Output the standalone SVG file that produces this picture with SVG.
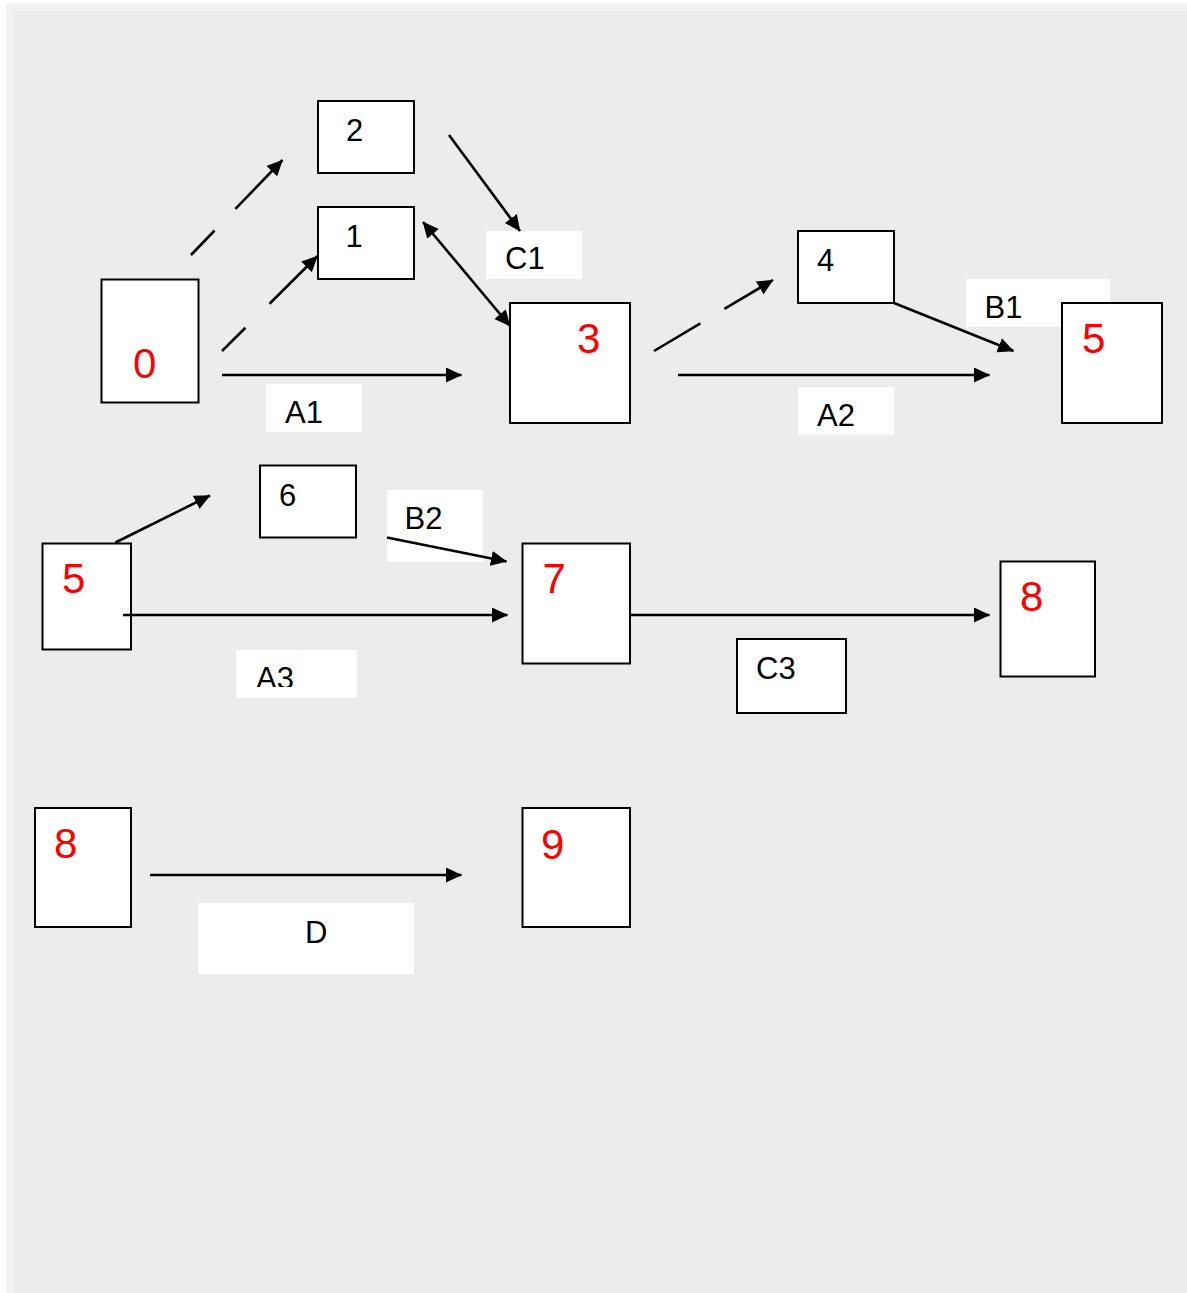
<svg xmlns="http://www.w3.org/2000/svg" width="1187" height="1293" viewBox="0 0 1187 1293">
<style>
.box{fill:#ffffff;stroke:#000000;stroke-width:2}
.lbl{fill:#ffffff;stroke:none}
.t{font-family:"Liberation Sans",Arial,sans-serif;font-size:31px;fill:#000000}
.r{font-family:"Liberation Sans",Arial,sans-serif;font-size:42px;fill:#ff0000}
.c{fill:none;stroke:#000000;stroke-width:2.6}
</style>
<defs>
<marker id="ah" markerUnits="userSpaceOnUse" markerWidth="17" markerHeight="16" refX="15.5" refY="7.5" orient="auto-start-reverse" viewBox="0 0 17 16">
<path d="M0,0 L16,7.5 L0,15 Z" fill="#000000"/>
</marker>
<clipPath id="clipA3"><rect x="236" y="650" width="121" height="37"/></clipPath>
</defs>
<rect x="0" y="0" width="1187" height="1293" fill="#ffffff"/>
<rect x="6" y="3" width="1181" height="1290" fill="#f2f2f2"/>
<rect x="13" y="11" width="1174" height="1282" fill="#ececec"/>

<g id="node-0"><rect class="box" x="101.5" y="279.5" width="97" height="123"/><text class="r" x="133" y="378">0</text></g>
<g id="node-2"><rect class="box" x="318" y="101" width="96" height="72"/><text class="t" x="346" y="141">2</text></g>
<g id="node-1"><rect class="box" x="318" y="207" width="96" height="72"/><text class="t" x="345.5" y="247">1</text></g>
<g id="label-A1"><rect class="lbl" x="266" y="384" width="96" height="48"/><text class="t" x="285" y="423">A1</text></g>
<g id="label-C1"><rect class="lbl" x="486" y="231" width="96" height="48"/><text class="t" x="505" y="269">C1</text></g>
<g id="node-3"><rect class="box" x="510" y="303" width="120" height="120"/><text class="r" x="577" y="353">3</text></g>
<g id="node-4"><rect class="box" x="798" y="231" width="96" height="72"/><text class="t" x="817" y="271">4</text></g>
<g id="label-B1"><rect class="lbl" x="966" y="279" width="144" height="48"/><text class="t" x="984.5" y="318">B1</text></g>
<g id="node-5a"><rect class="box" x="1062" y="303" width="100" height="120"/><text class="r" x="1082" y="353">5</text></g>
<g id="label-A2"><rect class="lbl" x="798" y="387" width="96" height="48"/><text class="t" x="817" y="426">A2</text></g>

<g id="node-6"><rect class="box" x="260" y="465.5" width="96" height="72"/><text class="t" x="279" y="506">6</text></g>
<g id="label-B2"><rect class="lbl" x="387" y="490" width="96" height="72"/><text class="t" x="404.5" y="529">B2</text></g>
<g id="node-5b"><rect class="box" x="42.5" y="543.5" width="88.5" height="106"/><text class="r" x="62" y="593">5</text></g>
<g id="label-A3"><rect class="lbl" x="236" y="650" width="121" height="48"/><text class="t" x="256" y="689" clip-path="url(#clipA3)">A3</text></g>
<g id="node-7"><rect class="box" x="522.5" y="543.5" width="107.5" height="120"/><text class="r" x="542.5" y="593">7</text></g>
<g id="label-C3"><rect class="box" x="737" y="639" width="109" height="74"/><text class="t" x="756" y="679">C3</text></g>
<g id="node-8a"><rect class="box" x="1000.5" y="561.5" width="94.5" height="115"/><text class="r" x="1020" y="611">8</text></g>

<g id="node-8b"><rect class="box" x="35" y="808" width="96" height="119"/><text class="r" x="54" y="858">8</text></g>
<g id="label-D"><rect class="lbl" x="198" y="903" width="216" height="71"/><text class="t" x="305" y="943">D</text></g>
<g id="node-9"><rect class="box" x="522.5" y="808" width="107.5" height="119"/><text class="r" x="541" y="859">9</text></g>

<g id="connectors">
<path class="c" d="M191,255 L282.5,160" stroke-dasharray="34 30 100" marker-end="url(#ah)"/>
<path class="c" d="M222,351 L317.5,256" stroke-dasharray="33 34 100" marker-end="url(#ah)"/>
<path class="c" d="M222,375 L461.5,375" marker-end="url(#ah)"/>
<path class="c" d="M449,135 L520,231" marker-end="url(#ah)"/>
<path class="c" d="M423,222 L510,326" marker-start="url(#ah)" marker-end="url(#ah)"/>
<path class="c" d="M654,351 L773,280" stroke-dasharray="54 28 100" marker-end="url(#ah)"/>
<path class="c" d="M894,303 L1013.5,351" marker-end="url(#ah)"/>
<path class="c" d="M678,375 L989.5,375" marker-end="url(#ah)"/>
<path class="c" d="M115.5,542.5 L210,495.5" marker-end="url(#ah)"/>
<path class="c" d="M387,537.5 L506.5,561.5" marker-end="url(#ah)"/>
<path class="c" d="M123,615 L507.5,615" marker-end="url(#ah)"/>
<path class="c" d="M630,615 L989.5,615" marker-end="url(#ah)"/>
<path class="c" d="M150,875 L461.5,875" marker-end="url(#ah)"/>
</g>
</svg>
